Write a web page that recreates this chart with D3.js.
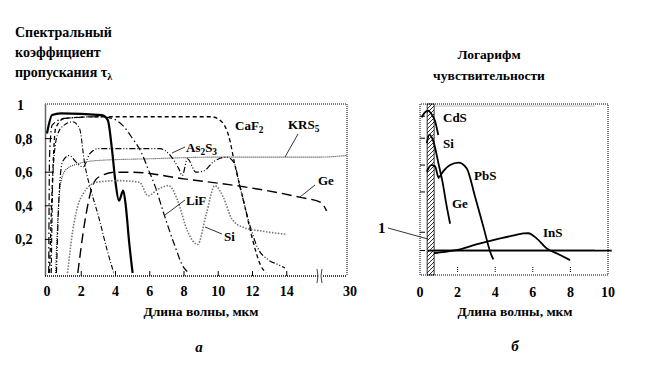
<!DOCTYPE html>
<html>
<head>
<meta charset="utf-8">
<script src="https://cdn.jsdelivr.net/npm/d3@7"></script>
<style>
  body { margin: 0; background: #fff; }
  text { font-family: "Liberation Serif", "Tinos", "Noto Serif", "FreeSerif", "DejaVu Serif", serif; font-weight: bold; fill: #000; }
</style>
</head>
<body>
<svg width="650" height="377"></svg>
<script>
// ---- panel a: spectral transmission, wavelength in um ----
let xTicksA = [0, 2, 4, 6, 8, 10, 12, 14, 30];
let yTicksA = [0.2, 0.4, 0.6, 0.8, 1];
let yLabelsA = ["0,2", "0,4", "0,6", "0,8", "1"];

let glass = [[0, 0.83], [0.3, 0.94], [0.8, 0.95], [3.2, 0.94], [3.55, 0.91], [3.8, 0.73], [4.0, 0.54], [4.2, 0.43], [4.45, 0.49], [4.6, 0.4], [4.8, 0.18], [5.0, 0]];
let caf2 = [[0.15, 0], [0.3, 0.5], [0.5, 0.86], [1, 0.92], [3, 0.93], [9.6, 0.93], [10.2, 0.9], [10.6, 0.82], [11, 0.63], [11.5, 0.42], [12, 0.2], [12.5, 0.04], [12.8, 0]];
let krs5 = [[0.5, 0], [0.6, 0.25], [0.75, 0.5], [1, 0.6], [1.5, 0.64], [3, 0.67], [6, 0.68], [10, 0.69], [16, 0.69], [30, 0.7]];
let as2s3 = [[0.55, 0], [0.7, 0.45], [0.9, 0.66], [1.3, 0.7], [1.7, 0.66], [2.1, 0.63], [2.5, 0.71], [3, 0.74], [6.6, 0.74], [7.2, 0.7], [7.7, 0.62], [7.9, 0.58], [8.2, 0.68], [8.7, 0.6], [9.2, 0.61], [9.7, 0.66], [10.5, 0.69], [10.9, 0.66], [11.3, 0.5], [11.8, 0.3], [12.3, 0.15], [12.9, 0.08], [13.5, 0.05], [13.9, 0.03]];
let lif = [[0.1, 0], [0.15, 0.7], [0.3, 0.88], [1, 0.92], [3, 0.93], [3.8, 0.92], [4.4, 0.88], [5, 0.8], [5.5, 0.72], [5.9, 0.62], [6.3, 0.52], [6.8, 0.36], [7.4, 0.18], [8, 0.03], [8.3, 0]];
let sapph = [[0.25, 0], [0.35, 0.6], [0.6, 0.82], [1, 0.88], [1.5, 0.9], [1.9, 0.86], [2.2, 0.65], [2.6, 0.48], [3, 0.34], [3.5, 0.14], [3.9, 0]];
let ge = [[1.8, 0], [2.2, 0.3], [2.6, 0.5], [3, 0.57], [4, 0.6], [5, 0.6], [8, 0.56], [11.7, 0.51], [14.8, 0.45], [16, 0.42], [19, 0.37]];
let si = [[1.2, 0], [1.5, 0.25], [1.8, 0.4], [2.1, 0.47], [2.9, 0.54], [4.1, 0.55], [5.4, 0.54], [5.9, 0.46], [6.5, 0.5], [7.1, 0.52], [7.6, 0.44], [8.2, 0.25], [8.8, 0.17], [9.3, 0.35], [9.8, 0.52], [10.3, 0.45], [10.8, 0.32], [11.5, 0.27], [12.5, 0.25], [14, 0.23]];

// ---- panel b: log sensitivity ----
let xTicksB = [0, 2, 4, 6, 8, 10];
let yTicksB = [1, 1.75, 3.4, 4.5, 5.6, 6.5];
let cds = [[0.09, 6.45], [0.25, 6.65], [0.44, 6.73], [0.6, 6.6], [0.8, 6.3], [0.97, 5.73]];
let siB = [[0.36, 5.4], [0.5, 5.75], [0.7, 5.5], [1.0, 4.5], [1.2, 3.8], [1.4, 2.9], [1.6, 2.1]];
let geB = [[0.36, 4.23], [0.6, 4.5], [0.8, 4.45], [0.95, 4.05], [1.02, 3.95]];
let pbs = [[1.03, 4.0], [1.3, 4.3], [1.6, 4.5], [2.04, 4.6], [2.48, 4.37], [2.93, 3.2], [3.37, 1.98], [3.76, 0.89], [3.9, 0.64]];
let ins = [[0.74, 0.89], [1.5, 0.97], [2.13, 1.05], [3, 1.25], [4, 1.45], [5, 1.62], [5.5, 1.7], [5.76, 1.71], [6.2, 1.5], [6.74, 1.09], [7.45, 0.82], [7.98, 0.61]];
let visBand = [0.38, 0.75];
let levelOne = [[0.4, 1], [10.2, 1]];

let svg = d3.select("svg");

let xa = d3.scaleLinear().domain([0, 16, 30]).range([47, 321, 347]);
let ya = d3.scaleLinear().domain([0, 1]).range([273, 105]);
let xb = d3.scaleLinear().domain([0, 10]).range([420, 608]);
let yb = d3.scaleLinear().domain([0, 7]).range([275, 104]);

let lineA = d3.line().x((d) => xa(d[0])).y((d) => ya(d[1])).curve(d3.curveMonotoneX);
let lineB = d3.line().x((d) => xb(d[0])).y((d) => yb(d[1])).curve(d3.curveMonotoneX);

// hatching for the visible band
svg.append("defs")
  .append("pattern")
  .attr("id", "hatch")
  .attr("patternUnits", "userSpaceOnUse")
  .attr("width", 4)
  .attr("height", 4)
  .append("path")
  .attr("d", "M-1,1 l2,-2 M0,4 l4,-4 M3,5 l2,-2")
  .attr("stroke", "#000")
  .attr("stroke-width", 0.8);

function label(g, x, y, parts, size) {
  size = size || 13;
  let t = g.append("text").attr("x", x).attr("y", y).attr("font-size", size);
  let low = false;
  parts.forEach((p) => {
    if (typeof p === "string") {
      t.append("tspan").attr("dy", low ? -3 : 0).text(p);
      low = false;
    } else {
      t.append("tspan").attr("font-size", size * 0.72).attr("dy", 3).text(p[0]);
      low = true;
    }
  });
  return t;
}

// ---------- panel a frame ----------
let ga = svg.append("g");
ga.append("line")
  .attr("x1", 45).attr("x2", 347).attr("y1", 104).attr("y2", 104)
  .attr("stroke", "#000").attr("stroke-dasharray", "1,1");
ga.append("line")
  .attr("x1", 347).attr("x2", 347).attr("y1", 104).attr("y2", 276)
  .attr("stroke", "#000").attr("stroke-dasharray", "1,1");
ga.append("line")
  .attr("x1", 45.5).attr("x2", 45.5).attr("y1", 104).attr("y2", 276)
  .attr("stroke", "#666").attr("stroke-width", 1.5);
ga.append("line")
  .attr("x1", 45).attr("x2", 318).attr("y1", 276).attr("y2", 276)
  .attr("stroke", "#000").attr("stroke-dasharray", "1,1").attr("stroke-width", 1.3);
ga.append("line")
  .attr("x1", 323).attr("x2", 347).attr("y1", 276).attr("y2", 276)
  .attr("stroke", "#000").attr("stroke-dasharray", "1,1").attr("stroke-width", 1.3);
ga.append("path")
  .attr("d", "M317,269 q2,7 0,14 M322,269 q-2,7 0,14")
  .attr("fill", "none").attr("stroke", "#444");

ga.selectAll(".ytick")
  .data(yTicksA.filter((d) => d < 1))
  .enter()
  .append("line")
  .attr("x1", 45).attr("x2", 52)
  .attr("y1", (d) => ya(d)).attr("y2", (d) => ya(d))
  .attr("stroke", "#000");
ga.selectAll(".xtick")
  .data(xTicksA.filter((d) => d > 0 && d < 16))
  .enter()
  .append("line")
  .attr("x1", (d) => xa(d)).attr("x2", (d) => xa(d))
  .attr("y1", 276).attr("y2", 271)
  .attr("stroke", "#000");

ga.selectAll(".ylab")
  .data(yTicksA)
  .enter()
  .append("text")
  .attr("x", (d) => (d === 1 ? 17 : 15))
  .attr("y", (d) => ya(d) + 5)
  .attr("font-size", 14)
  .text((d, i) => yLabelsA[i]);
ga.selectAll(".xlab")
  .data(xTicksA)
  .enter()
  .append("text")
  .attr("x", (d) => (d === 30 ? 350 : xa(d)))
  .attr("y", 296)
  .attr("text-anchor", "middle")
  .attr("font-size", 14)
  .text((d) => d);

// curves of panel a
let curvesA = [
  { d: glass, w: 2.2, dash: null, c: "#000" },
  { d: caf2, w: 1.3, dash: "4,3", c: "#000" },
  { d: krs5, w: 1.1, dash: "1,1", c: "#333" },
  { d: as2s3, w: 1.2, dash: "6,2,1,2,1,2", c: "#000" },
  { d: lif, w: 1.2, dash: "7,3,1.5,3", c: "#000" },
  { d: sapph, w: 1.1, dash: "5,2,1,2", c: "#000" },
  { d: ge, w: 1.4, dash: "10,5", c: "#000" },
  { d: si, w: 1.6, dash: "1.5,1.5", c: "#777" },
];
ga.selectAll(".curve")
  .data(curvesA)
  .enter()
  .append("path")
  .attr("d", (d) => lineA(d.d))
  .attr("fill", "none")
  .attr("stroke", (d) => d.c)
  .attr("stroke-width", (d) => d.w)
  .attr("stroke-dasharray", (d) => d.dash);

// leaders
let leadersA = [
  [185, 147, 172, 153],
  [298, 134, 285, 157],
  [315, 185, 300, 197],
  [185, 200, 165, 215],
  [222, 234, 205, 227],
];
ga.selectAll(".lead")
  .data(leadersA)
  .enter()
  .append("line")
  .attr("x1", (d) => d[0]).attr("y1", (d) => d[1])
  .attr("x2", (d) => d[2]).attr("y2", (d) => d[3])
  .attr("stroke", "#000").attr("stroke-width", 0.8);

label(ga, 186, 152, ["As", ["2"], "S", ["3"]]);
label(ga, 235, 130, ["CaF", ["2"]]);
label(ga, 288, 129, ["KRS", ["5"]]);
label(ga, 318, 185, ["Ge"]);
label(ga, 186, 205, ["LiF"]);
label(ga, 224, 241, ["Si"]);

// titles panel a
label(svg, 15, 37, ["Спектральный"], 14);
label(svg, 15, 57, ["коэффициент"], 14);
label(svg, 15, 77, ["пропускания  τ", ["λ"]], 14);
svg.append("text")
  .attr("x", 201).attr("y", 316)
  .attr("text-anchor", "middle").attr("font-size", 13.5)
  .text("Длина волны,  мкм");
svg.append("text")
  .attr("x", 199).attr("y", 352)
  .attr("text-anchor", "middle").attr("font-size", 15).attr("font-style", "italic")
  .text("а");

// ---------- panel b ----------
let gb = svg.append("g");
gb.append("rect")
  .attr("x", xb(visBand[0])).attr("y", 104)
  .attr("width", xb(visBand[1]) - xb(visBand[0])).attr("height", 171)
  .attr("fill", "url(#hatch)").attr("stroke", "#000").attr("stroke-width", 0.8);
gb.append("path")
  .attr("d", "M420,275 V104 H608 V275 H420")
  .attr("fill", "none").attr("stroke", "#000").attr("stroke-dasharray", "1,1");
gb.append("line")
  .attr("x1", xb(0.8)).attr("x2", xb(9.3)).attr("y1", 106).attr("y2", 106)
  .attr("stroke", "#bbb").attr("stroke-width", 1.2);
gb.append("line")
  .attr("x1", xb(0.8)).attr("x2", xb(9.3)).attr("y1", yb(1) - 1).attr("y2", yb(1) - 1)
  .attr("stroke", "#bbb").attr("stroke-width", 1.2);
gb.append("path")
  .attr("d", lineB(levelOne))
  .attr("fill", "none").attr("stroke", "#000").attr("stroke-width", 1.8);

gb.selectAll(".ytick")
  .data(yTicksB)
  .enter()
  .append("line")
  .attr("x1", 420).attr("x2", 425)
  .attr("y1", (d) => yb(d)).attr("y2", (d) => yb(d))
  .attr("stroke", "#000");
gb.selectAll(".xtick")
  .data(xTicksB.filter((d) => d > 0 && d < 10))
  .enter()
  .append("line")
  .attr("x1", (d) => xb(d)).attr("x2", (d) => xb(d))
  .attr("y1", 267).attr("y2", 272)
  .attr("stroke", "#000").attr("stroke-dasharray", "1,1");
gb.selectAll(".xlab")
  .data(xTicksB)
  .enter()
  .append("text")
  .attr("x", (d) => xb(d))
  .attr("y", 297)
  .attr("text-anchor", "middle")
  .attr("font-size", 14)
  .text((d) => d);

gb.selectAll(".curve")
  .data([cds, siB, geB, pbs, ins])
  .enter()
  .append("path")
  .attr("d", (d) => lineB(d))
  .attr("fill", "none")
  .attr("stroke", "#000")
  .attr("stroke-width", 1.8);

gb.append("line")
  .attr("x1", 388).attr("y1", 228).attr("x2", 428).attr("y2", 239)
  .attr("stroke", "#000").attr("stroke-width", 0.8);

label(gb, 378, 233, ["1"], 15);
label(gb, 443, 122, ["CdS"]);
label(gb, 443, 148, ["Si"]);
label(gb, 474, 180, ["PbS"]);
label(gb, 452, 208, ["Ge"]);
label(gb, 543, 237, ["InS"]);

svg.append("text")
  .attr("x", 489).attr("y", 59)
  .attr("text-anchor", "middle").attr("font-size", 13.5)
  .text("Логарифм");
svg.append("text")
  .attr("x", 489).attr("y", 80)
  .attr("text-anchor", "middle").attr("font-size", 13.5)
  .text("чувствительности");
svg.append("text")
  .attr("x", 515).attr("y", 316)
  .attr("text-anchor", "middle").attr("font-size", 13.5)
  .text("Длина волны,  мкм");
svg.append("text")
  .attr("x", 515).attr("y", 351)
  .attr("text-anchor", "middle").attr("font-size", 15).attr("font-style", "italic")
  .text("б");
</script>
</body>
</html>
